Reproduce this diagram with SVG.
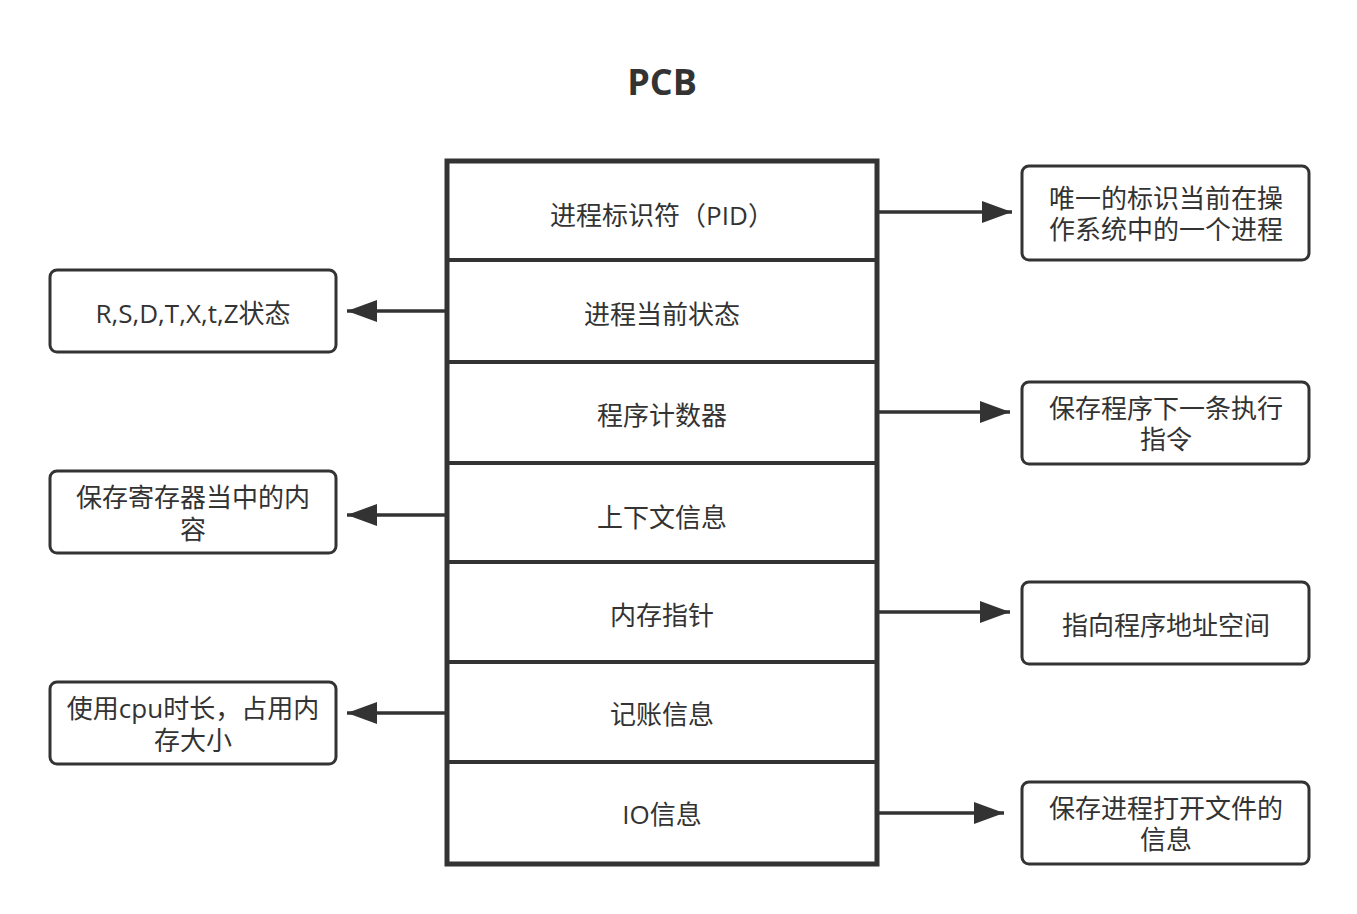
<svg xmlns="http://www.w3.org/2000/svg" width="1357" height="914" viewBox="0 0 1357 914">
<defs>
<style>
text{font-family:"Open Sans","Noto Sans CJK SC",sans-serif;fill:#333;font-size:26px;text-anchor:middle}
.title{font-size:36px;font-weight:bold}
.box{fill:#fff;stroke:#333;stroke-width:3}
.div{stroke:#333;stroke-width:4}
.edge{stroke:#333;stroke-width:3.5;fill:none}
</style>
<marker id="ah" viewBox="0 0 30 22" refX="30" refY="11" markerWidth="30" markerHeight="22" markerUnits="userSpaceOnUse" orient="auto">
<path d="M0,0 L30,11 L0,22 Z" fill="#333"/>
</marker>
</defs>
<rect width="1357" height="914" fill="#fff"/>
<text class="title" x="662" y="95">PCB</text>
<g id="pcb">
<rect x="447" y="161" width="430" height="703" fill="#fff" stroke="#333" stroke-width="5"/>
<line class="div" x1="447" y1="260" x2="877" y2="260"/>
<line class="div" x1="447" y1="362" x2="877" y2="362"/>
<line class="div" x1="447" y1="463" x2="877" y2="463"/>
<line class="div" x1="447" y1="562" x2="877" y2="562"/>
<line class="div" x1="447" y1="662" x2="877" y2="662"/>
<line class="div" x1="447" y1="762" x2="877" y2="762"/>
<text x="662" y="225">进程标识符（PID）</text>
<text x="662" y="324">进程当前状态</text>
<text x="662" y="425">程序计数器</text>
<text x="662" y="527">上下文信息</text>
<text x="662" y="625">内存指针</text>
<text x="662" y="724">记账信息</text>
<text x="662" y="824">IO信息</text>
</g>
<g id="r1"><rect class="box" x="1022" y="166" width="287" height="94" rx="7"/><text x="1166" y="208">唯一的标识当前在操</text><text x="1166" y="239">作系统中的一个进程</text></g>
<g id="r2"><rect class="box" x="1022" y="382" width="287" height="82" rx="7"/><text x="1166" y="418">保存程序下一条执行</text><text x="1166" y="449">指令</text></g>
<g id="r3"><rect class="box" x="1022" y="582" width="287" height="82" rx="7"/><text x="1166" y="635">指向程序地址空间</text></g>
<g id="r4"><rect class="box" x="1022" y="782" width="287" height="82" rx="7"/><text x="1166" y="818">保存进程打开文件的</text><text x="1166" y="849">信息</text></g>
<g id="l1"><rect class="box" x="50" y="270" width="286" height="82" rx="7"/><text x="193" y="323">R,S,D,T,X,t,Z状态</text></g>
<g id="l2"><rect class="box" x="50" y="471" width="286" height="82" rx="7"/><text x="193" y="507">保存寄存器当中的内</text><text x="193" y="539">容</text></g>
<g id="l3"><rect class="box" x="50" y="682" width="286" height="82" rx="7"/><text x="193" y="718">使用cpu时长，占用内</text><text x="193" y="750">存大小</text></g>
<g id="connectors">
<line class="edge" x1="879" y1="212" x2="1012" y2="212" marker-end="url(#ah)"/>
<line class="edge" x1="879" y1="412" x2="1010" y2="412" marker-end="url(#ah)"/>
<line class="edge" x1="879" y1="612" x2="1010" y2="612" marker-end="url(#ah)"/>
<line class="edge" x1="879" y1="813" x2="1004" y2="813" marker-end="url(#ah)"/>
<line class="edge" x1="445" y1="311" x2="347" y2="311" marker-end="url(#ah)"/>
<line class="edge" x1="445" y1="515" x2="347" y2="515" marker-end="url(#ah)"/>
<line class="edge" x1="445" y1="713" x2="347" y2="713" marker-end="url(#ah)"/>
</g>
</svg>
